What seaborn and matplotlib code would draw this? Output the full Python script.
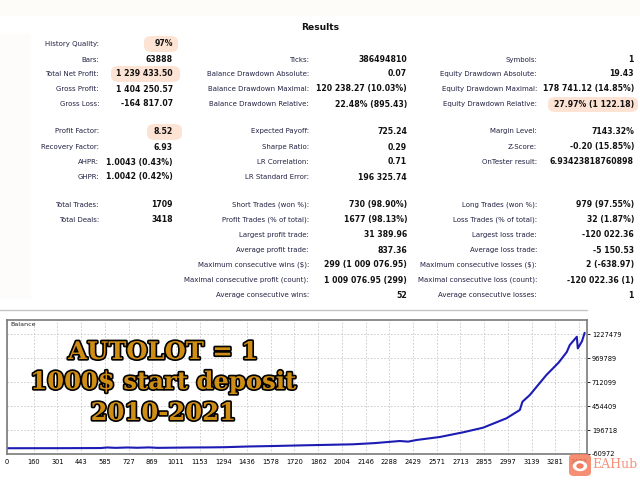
import numpy as np
import pandas as pd
import matplotlib
matplotlib.use("Agg")
import matplotlib.pyplot as plt
import matplotlib.patheffects as pe
from matplotlib.patches import FancyBboxPatch, Rectangle, Ellipse
import seaborn as sns

# ---------------- data ----------------
col1_labels = ["History Quality:", "Bars:", "Total Net Profit:", "Gross Profit:", "Gross Loss:",
               None, "Profit Factor:", "Recovery Factor:", "AHPR:", "GHPR:",
               None, "Total Trades:", "Total Deals:"]
col1_values = ["97%", "63888", "1 239 433.50", "1 404 250.57", "-164 817.07",
               None, "8.52", "6.93", "1.0043 (0.43%)", "1.0042 (0.42%)",
               None, "1709", "3418"]
col2_labels = [None, "Ticks:", "Balance Drawdown Absolute:", "Balance Drawdown Maximal:",
               "Balance Drawdown Relative:", None, "Expected Payoff:", "Sharpe Ratio:",
               "LR Correlation:", "LR Standard Error:", None, "Short Trades (won %):",
               "Profit Trades (% of total):", "Largest profit trade:", "Average profit trade:",
               "Maximum consecutive wins ($):", "Maximal consecutive profit (count):",
               "Average consecutive wins:"]
col2_values = [None, "386494810", "0.07", "120 238.27 (10.03%)", "22.48% (895.43)", None,
               "725.24", "0.29", "0.71", "196 325.74", None, "730 (98.90%)", "1677 (98.13%)",
               "31 389.96", "837.36", "299 (1 009 076.95)", "1 009 076.95 (299)", "52"]
col3_labels = [None, "Symbols:", "Equity Drawdown Absolute:", "Equity Drawdown Maximal:",
               "Equity Drawdown Relative:", None, "Margin Level:", "Z-Score:", "OnTester result:",
               None, None, "Long Trades (won %):", "Loss Trades (% of total):",
               "Largest loss trade:", "Average loss trade:", "Maximum consecutive losses ($):",
               "Maximal consecutive loss (count):", "Average consecutive losses:"]
col3_values = [None, "1", "19.43", "178 741.12 (14.85%)", "27.97% (1 122.18)", None,
               "7143.32%", "-0.20 (15.85%)", "6.93423818760898", None, None, "979 (97.55%)",
               "32 (1.87%)", "-120 022.36", "-5 150.53", "2 (-638.97)", "-120 022.36 (1)", "1"]

deal_number = [0, 300, 560, 600, 650, 720, 780, 850, 900, 1000, 1100, 1200, 1300, 1450,
               1600, 1770, 1872, 2069, 2200, 2350, 2400, 2450, 2589, 2729, 2848, 2988,
               3068, 3084, 3128, 3227, 3300, 3349, 3367, 3409, 3415, 3440, 3456]
balance = [1000, 1500, 3000, 9000, 5000, 9000, 6000, 10000, 5000, 7000, 9000, 10000, 12000,
           20000, 25000, 32000, 35662, 43177, 56000, 78610, 72000, 89347, 121558, 172023,
           221413, 322342, 411460, 500594, 572516, 787258, 920000, 1034210, 1109353,
           1198000, 1073000, 1150000, 1240433]

x_tick_values = [0, 160, 301, 443, 585, 727, 869, 1011, 1153, 1294, 1436, 1578, 1720, 1862,
                 2004, 2146, 2288, 2429, 2571, 2713, 2855, 2997, 3139, 3281, 3423]
y_tick_values = [-60972, 196718, 454409, 712099, 969789, 1227479]

overlay_lines = ["AUTOLOT = 1", "1000$ start deposit", "2010-2021"]

# ---------------- figure ----------------
sns.set_style("white")
plt.rcParams["font.family"] = ["DejaVu Sans"]
W, H = 640, 480
fig = plt.figure(figsize=(6.4, 4.8), dpi=100)
fig.patch.set_facecolor("white")


def fx(x):
    return x / W


def fy(y):
    return 1 - y / H


# very faint background bands
fig.patches.append(Rectangle((0, fy(15)), 1, 15 / H, transform=fig.transFigure,
                             color="#fdfcf9", zorder=0))
fig.patches.append(Rectangle((0, fy(297)), fx(30), (297 - 33) / H, transform=fig.transFigure,
                             color="#fdfcfa", zorder=0))


def highlight(x0, y0, x1, y1):
    fig.patches.append(FancyBboxPatch((fx(x0), fy(y1)), fx(x1 - x0), (y1 - y0) / H,
                                      boxstyle="round,pad=0,rounding_size=0.012",
                                      transform=fig.transFigure, color="#fde3d3",
                                      zorder=1, lw=0))


highlight(144, 36, 178, 52)
highlight(111, 66, 180, 82)
highlight(147, 124, 182, 140)
highlight(548, 97, 638, 112)

fig.text(fx(320), fy(28), "Results", ha="center", va="center", fontsize=6.6,
         fontweight="bold", color="#111111")

row_y = [44, 60, 74, 89, 104, None, 131, 147, 162, 177, None, 205, 220, 235, 250, 265, 280, 295]
lab_kw = dict(ha="right", va="center", fontsize=5.0, color="#222244", zorder=3)
val_kw = dict(ha="right", va="center", fontsize=5.6, fontweight="bold", color="#111111",
              zorder=3)


def draw_col(labels, values, lx, vx):
    for i, (l, v) in enumerate(zip(labels, values)):
        if l is None:
            continue
        y = row_y[i]
        fig.text(fx(lx), fy(y), l, **lab_kw)
        fig.text(fx(vx), fy(y), v, **val_kw)


draw_col(col1_labels, col1_values, 99, 173)
draw_col(col2_labels, col2_values, 309, 407)
draw_col(col3_labels, col3_values, 537, 634)

# separator
fig.add_artist(plt.Line2D([0, fx(587)], [fy(310), fy(310)], transform=fig.transFigure,
                          color="#c4c4c4", lw=1.0))

# ---------------- chart ----------------
ax = fig.add_axes([fx(7), fy(454), fx(580), (454 - 320) / H])
df = pd.DataFrame({"deal": deal_number, "balance": balance})
sns.lineplot(data=df, x="deal", y="balance", ax=ax, color="#1c1cb4", lw=1.5)
ax.set_xlim(0, 3470)
ax.set_ylim(-60972, 1377800)
ax.set_xlabel("")
ax.set_ylabel("")
ax.set_xticks(x_tick_values)
ax.set_xticklabels([str(v) for v in x_tick_values], fontsize=4.8)
ax.set_yticks(y_tick_values)
ax.set_yticklabels([str(v) for v in y_tick_values], fontsize=4.8)
ax.yaxis.tick_right()
ax.tick_params(axis="both", length=2, width=0.6, pad=1.5, colors="black")
ax.grid(True, ls=(0, (2, 2)), color="#c8c8c8", lw=0.6)
for s in ax.spines.values():
    s.set_color("#7a7a7a")
    s.set_linewidth(1.2)
ax.text(0.005, 0.985, "Balance", transform=ax.transAxes, ha="left", va="top",
        fontsize=4.6, color="#222222")

# overlay text
for txt, yy in zip(overlay_lines, [352, 382, 413]):
    fig.text(fx(163), fy(yy), txt, ha="center", va="center", fontsize=17.5,
             family="DejaVu Serif", fontweight="bold", color="#cf8d14", zorder=5,
             path_effects=[pe.withStroke(linewidth=2.4, foreground="black")])

# watermark logo
fig.patches.append(FancyBboxPatch((fx(569), fy(476)), fx(22), 22 / H,
                                  boxstyle="round,pad=0,rounding_size=0.008",
                                  transform=fig.transFigure, color="#f47c5c", alpha=0.85,
                                  zorder=6, lw=0))
fig.patches.append(Ellipse((fx(580), fy(466)), fx(13), 9 / H, transform=fig.transFigure,
                           color="white", zorder=7))
fig.patches.append(Ellipse((fx(580), fy(466)), fx(6), 4 / H, transform=fig.transFigure,
                           color="#f47c5c", zorder=8))
fig.text(fx(615), fy(465), "EAHub", ha="center", va="center", fontsize=9,
         family="DejaVu Serif", color="#f4866a", alpha=0.9, zorder=7)

fig.savefig("out.png", dpi=100)
